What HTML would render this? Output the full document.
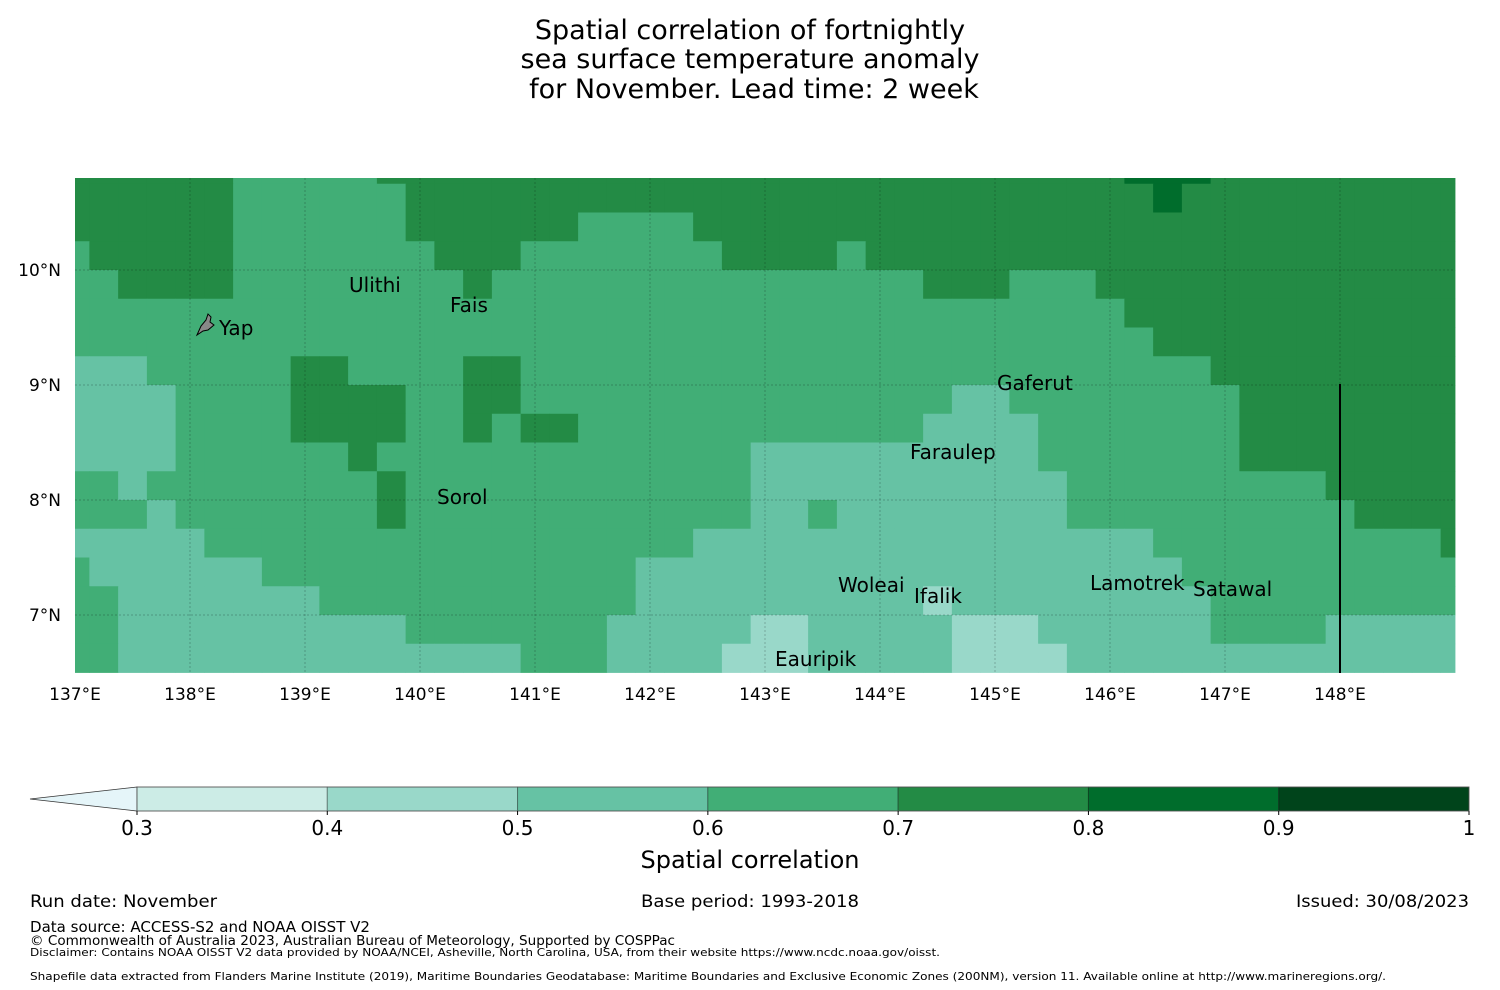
<!DOCTYPE html>
<html><head><meta charset="utf-8"><style>
body{margin:0;background:#fff;}
svg{display:block;font-family:"DejaVu Sans","Liberation Sans",sans-serif;}
</style></head><body>
<svg id="chart" width="1500" height="990" viewBox="0 0 1500 990" xmlns="http://www.w3.org/2000/svg">
<rect width="1500" height="990" fill="#fff"/>
<g font-size="27" text-anchor="middle" fill="#000">
<text x="750" y="39">Spatial correlation of fortnightly</text>
<text x="750" y="68">sea surface temperature anomaly</text>
<text x="754" y="98">for November. Lead time: 2 week</text>
</g>
<g id="cells"></g>
<g id="grid"></g>
<g id="xticks" font-size="17" text-anchor="middle"></g>
<g id="yticks" font-size="17" text-anchor="end"></g>
<line x1="1340" y1="384" x2="1340" y2="673" stroke="#000" stroke-width="2"/>
<path d="M197,335 L201,326 L206,320 L208,314 L211,317 L210,322 L214,325 L208,330 L203,331 Z" fill="#888" stroke="#000" stroke-width="1"/>
<g id="labels" font-size="20" fill="#000"></g>
<g id="cbar"></g>
<text x="750" y="868" font-size="24" text-anchor="middle">Spatial correlation</text>
<g fill="#000">
<text x="30" y="907" font-size="17" textLength="187" lengthAdjust="spacingAndGlyphs">Run date: November</text>
<text x="750" y="907" font-size="17" text-anchor="middle" textLength="218" lengthAdjust="spacingAndGlyphs">Base period: 1993-2018</text>
<text x="1469" y="907" font-size="17" text-anchor="end" textLength="173" lengthAdjust="spacingAndGlyphs">Issued: 30/08/2023</text>
<text x="30" y="932" font-size="15" textLength="340" lengthAdjust="spacingAndGlyphs">Data source: ACCESS-S2 and NOAA OISST V2</text>
<text x="30" y="945" font-size="13" textLength="645" lengthAdjust="spacingAndGlyphs">© Commonwealth of Australia 2023, Australian Bureau of Meteorology, Supported by COSPPac</text>
<text x="30" y="956" font-size="11" textLength="910" lengthAdjust="spacingAndGlyphs">Disclaimer: Contains NOAA OISST V2 data provided by NOAA/NCEI, Asheville, North Carolina, USA, from their website https://www.ncdc.noaa.gov/oisst.</text>
<text x="30" y="980" font-size="11" textLength="1356" lengthAdjust="spacingAndGlyphs">Shapefile data extracted from Flanders Marine Institute (2019), Maritime Boundaries Geodatabase: Maritime Boundaries and Exclusive Economic Zones (200NM), version 11. Available online at http://www.marineregions.org/.</text>
</g>
</svg>
<script>
// Correlation bins per row (north to south), 49 columns each; digit d = correlation bin [d/10, d/10+0.1)
const corrRows = [
"777777"+"66666"+"77777777777777777777777777"+"888"+"777777777",
"777777"+"666666"+"77777777777777777777777777"+"8"+"7777777777",
"777777"+"666666"+"777777"+"6666"+"777777777777777777777777777",
"6"+"77777"+"6666666"+"777"+"6666666"+"7777"+"6"+"777777777777777777777",
"66"+"7777"+"66666666"+"7"+"666666666666666"+"777"+"666"+"7777777777777",
"6666666666666666666666666666666666666"+"777777777777",
"66666666666666666666666666666666666666"+"77777777777",
"555"+"66666"+"77"+"6666"+"77"+"666666666666666666666666"+"777777777",
"5555"+"6666"+"7777"+"66"+"77"+"666666666666666"+"55"+"66666666"+"77777777",
"5555"+"6666"+"7777"+"66"+"7"+"6"+"77"+"666666666666"+"5555"+"6666666"+"77777777",
"5555"+"666666"+"7"+"6666666666666"+"5555555555"+"6666666"+"77777777",
"66"+"5"+"66666666"+"7"+"666666666666"+"55555555555"+"666666666"+"77777",
"666"+"5"+"6666666"+"7"+"666666666666"+"55"+"6"+"55555555"+"6666666666"+"7777",
"55555"+"66666666666666666"+"5555555555555555"+"6666666666"+"7",
"6"+"555555"+"6666666666666"+"5555555555555555555"+"6666666666",
"66"+"5555555"+"66666666666"+"5555555555"+"4"+"555555555"+"666666666",
"66"+"5555555555"+"6666666"+"55555"+"44"+"55555"+"444"+"555555"+"6666"+"55555",
"66"+"55555555555555"+"666"+"5555"+"444"+"55555"+"4444"+"55555555555555"
];
const lonTicks = [137,138,139,140,141,142,143,144,145,146,147,148];
const latTicks = [10,9,8,7];
const cbarBounds = [0.3,0.4,0.5,0.6,0.7,0.8,0.9,1.0];
const cbarLabels = ["0.3","0.4","0.5","0.6","0.7","0.8","0.9","1"];
const islandNames = ["Ulithi","Fais","Yap","Gaferut","Faraulep","Sorol","Woleai","Ifalik","Lamotrek","Satawal","Eauripik"];
const labelLon = [139.383,140.261,138.252,145.017,144.261,140.148,143.635,144.296,145.826,146.722,143.087];
const labelLat = [9.809,9.635,9.435,8.957,8.357,7.965,7.200,7.104,7.217,7.165,6.557];

const NS="http://www.w3.org/2000/svg";
const LON0=137, LON1=149, LAT0=6.5, LAT1=10.8, PX=115;
const xS = lon => 75 + (lon-LON0)*PX;
const yS = lat => 270 - (lat-10)*PX;
const colorFor = v => {
  const cols=["#e5f5f9","#ccece6","#99d8c9","#66c2a4","#41ae76","#238b45","#006d2c","#00441b"];
  if (v < 0.3) return cols[0];
  for (let i=0;i<cbarBounds.length-1;i++) if (v>=cbarBounds[i] && v<cbarBounds[i+1]) return cols[i+1];
  return cols[7];
};
const mk=(tag,attrs,parent)=>{const e=document.createElementNS(NS,tag);for(const k in attrs)e.setAttribute(k,attrs[k]);parent.appendChild(e);return e;};

const cells=document.getElementById('cells');
corrRows.forEach((row,r)=>{
  const latTop = r===0 ? LAT1 : 10.75-0.25*(r-1);
  const latBot = r===0 ? 10.75 : 10.75-0.25*r;
  for (let c=0;c<row.length && c<49;c++){
    const v = parseInt(row[c],10)/10+0.05;
    const lon=137+0.25*c;
    const l0=Math.max(LON0,lon-0.125), l1=Math.min(LON1,lon+0.125);
    const x0=xS(l0), x1=xS(l1), y0=yS(latTop), y1=yS(Math.max(LAT0,latBot));
    const e=mk('rect',{x:x0.toFixed(2),y:y0.toFixed(2),width:(x1-x0+0.4).toFixed(2),height:(y1-y0+0.4).toFixed(2),fill:colorFor(v)},cells);
    
    
  }
});

const grid=document.getElementById('grid');
lonTicks.forEach(t=>{
  if(t>LON0){
    const e=mk('line',{x1:xS(t),x2:xS(t),y1:yS(LAT1),y2:yS(LAT0),stroke:'rgba(0,0,0,0.22)','stroke-width':1,'stroke-dasharray':'2,2'},grid);
    
    
  }
  const tx=mk('text',{x:xS(t),y:700},document.getElementById('xticks'));
  tx.textContent=t+'°E';
  
  
});
latTicks.forEach(t=>{
  const e=mk('line',{x1:xS(LON0),x2:xS(LON1),y1:yS(t),y2:yS(t),stroke:'rgba(0,0,0,0.22)','stroke-width':1,'stroke-dasharray':'2,2'},grid);
  
  
  const tx=mk('text',{x:61,y:yS(t)+6},document.getElementById('yticks'));
  tx.textContent=t+'°N';
  
  
});

const lab=document.getElementById('labels');
islandNames.forEach((n,i)=>{
  const t=mk('text',{x:xS(labelLon[i]),y:yS(labelLat[i])},lab);
  t.textContent=n;
  
  
});

const cb=document.getElementById('cbar');
const cx = v => 137 + (v-0.3)*(1469-137)/0.7;
const tri=mk('path',{d:`M137,787 L30,799 L137,811 Z`,fill:colorFor(0.2),stroke:'#333','stroke-width':0.8},cb);


for(let i=0;i<cbarBounds.length-1;i++){
  const a=cbarBounds[i], b=cbarBounds[i+1];
  const r=mk('rect',{x:cx(a),y:787,width:cx(b)-cx(a),height:24,fill:colorFor((a+b)/2),stroke:'rgba(0,0,0,0.35)','stroke-width':1},cb);
  
  
}
const fr=mk('rect',{x:137,y:787,width:1332,height:24,fill:'none',stroke:'#555','stroke-width':0.8},cb);


cbarBounds.forEach((v,i)=>{
  const tk=mk('line',{x1:cx(v),x2:cx(v),y1:811,y2:815,stroke:'#000'},cb);
  
  
  const t=mk('text',{x:cx(v),y:835,'font-size':20,'text-anchor':'middle'},cb);
  t.textContent=cbarLabels[i];
  
  
});
</script>
</body></html>
